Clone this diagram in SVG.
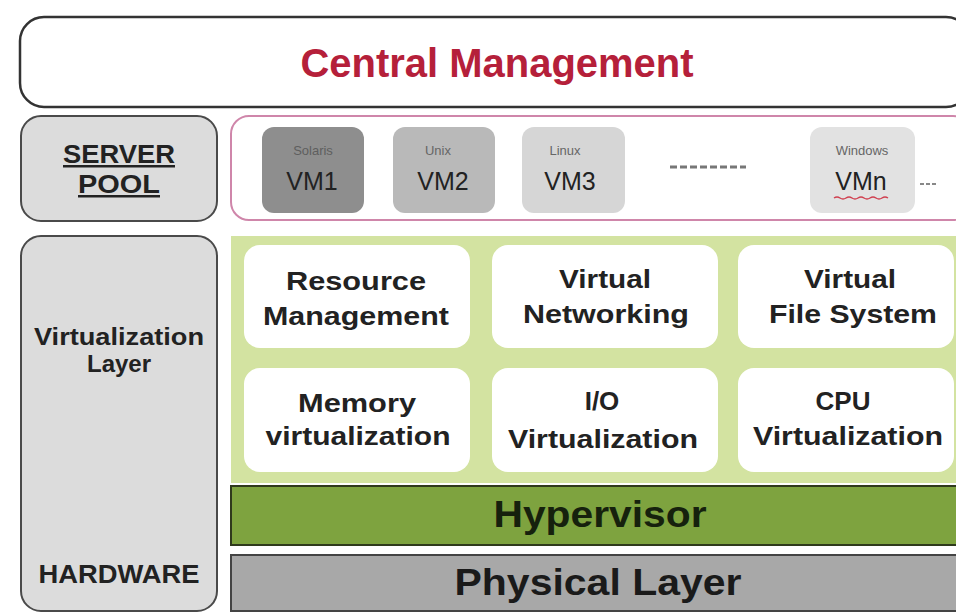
<svg xmlns="http://www.w3.org/2000/svg" width="956" height="613" viewBox="0 0 956 613">
<style>
.b{font-family:"Liberation Sans",Arial,sans-serif;font-weight:bold;text-anchor:middle;fill:#222}
.r{font-family:"Liberation Sans",Arial,sans-serif;text-anchor:middle}
.side{fill:#dcdcdc;stroke:#4a4a4a;stroke-width:2}
.cell{fill:#ffffff;stroke:none}
.os{font-size:13px;fill:#666}
.vm{font-size:25px;fill:#222}
</style>
<rect width="956" height="613" fill="#ffffff"/>
<g id="central">
<rect x="20" y="17" width="950" height="90" rx="24" fill="#ffffff" stroke="#333" stroke-width="2.5"/>
<text class="b" x="497" y="77" font-size="40" style="fill:#b5203a" textLength="393" lengthAdjust="spacingAndGlyphs">Central Management</text>
</g>
<g id="serverpool">
<rect class="side" x="21" y="116" width="196" height="105" rx="20"/>
<text class="b" x="119" y="163" font-size="25" text-decoration="underline" textLength="112" lengthAdjust="spacingAndGlyphs">SERVER</text>
<text class="b" x="119" y="193" font-size="25" text-decoration="underline" textLength="82" lengthAdjust="spacingAndGlyphs">POOL</text>
</g>
<g id="vmpool">
<rect x="231" y="116" width="740" height="104" rx="18" fill="#ffffff" stroke="#cf86aa" stroke-width="2"/>
</g>
<g id="vm1">
<rect x="262" y="127" width="102" height="86" rx="12" fill="#8e8e8e"/>
<text class="r os" x="313" y="155" style="fill:#5e5e5e">Solaris</text>
<text class="r vm" x="312" y="190">VM1</text>
</g>
<g id="vm2">
<rect x="393" y="127" width="102" height="86" rx="12" fill="#b9b9b9"/>
<text class="r os" x="438" y="155">Unix</text>
<text class="r vm" x="443" y="190">VM2</text>
</g>
<g id="vm3">
<rect x="522" y="127" width="103" height="86" rx="12" fill="#d6d6d6"/>
<text class="r os" x="565" y="155">Linux</text>
<text class="r vm" x="570" y="190">VM3</text>
</g>
<g id="dots">
<line x1="670" y1="167" x2="746" y2="167" stroke="#777" stroke-width="3" stroke-dasharray="7,3"/>
<line x1="920" y1="184" x2="937" y2="184" stroke="#888" stroke-width="2" stroke-dasharray="4,2"/>
</g>
<g id="vmn">
<rect x="810" y="127" width="105" height="86" rx="12" fill="#e2e2e2"/>
<text class="r os" x="862" y="155">Windows</text>
<text class="r vm" x="861" y="190">VMn</text>
<path d="M834 198 q3 -2 6 0 t6 0 t6 0 t6 0 t6 0 t6 0 t6 0 t6 0 t6 0" fill="none" stroke="#d04050" stroke-width="1.5"/>
</g>
<g id="virtlayer">
<rect class="side" x="21" y="236" width="196" height="375" rx="20"/>
<text class="b" x="119" y="345" font-size="24" textLength="170" lengthAdjust="spacingAndGlyphs">Virtualization</text>
<text class="b" x="119" y="372" font-size="24">Layer</text>
<text class="b" x="119" y="583" font-size="25" textLength="161" lengthAdjust="spacingAndGlyphs">HARDWARE</text>
</g>
<g id="greenarea">
<rect x="231" y="236" width="730" height="247" fill="#d3e3a1"/>
</g>
<g id="resource">
<rect class="cell" x="244" y="245" width="226" height="103" rx="16"/>
<text class="b" x="356" y="290" font-size="26" textLength="140" lengthAdjust="spacingAndGlyphs">Resource</text>
<text class="b" x="356" y="325" font-size="26" textLength="186" lengthAdjust="spacingAndGlyphs">Management</text>
</g>
<g id="vnet">
<rect class="cell" x="492" y="245" width="226" height="103" rx="16"/>
<text class="b" x="605" y="288" font-size="26" textLength="92" lengthAdjust="spacingAndGlyphs">Virtual</text>
<text class="b" x="606" y="323" font-size="26" textLength="166" lengthAdjust="spacingAndGlyphs">Networking</text>
</g>
<g id="vfs">
<rect class="cell" x="738" y="245" width="216" height="103" rx="16"/>
<text class="b" x="850" y="288" font-size="26" textLength="92" lengthAdjust="spacingAndGlyphs">Virtual</text>
<text class="b" x="853" y="323" font-size="26" textLength="168" lengthAdjust="spacingAndGlyphs">File System</text>
</g>
<g id="memory">
<rect class="cell" x="244" y="368" width="226" height="104" rx="16"/>
<text class="b" x="357" y="412" font-size="26" textLength="118" lengthAdjust="spacingAndGlyphs">Memory</text>
<text class="b" x="358" y="445" font-size="26" textLength="185" lengthAdjust="spacingAndGlyphs">virtualization</text>
</g>
<g id="io">
<rect class="cell" x="492" y="368" width="226" height="104" rx="16"/>
<text class="b" x="602" y="410" font-size="26">I/O</text>
<text class="b" x="603" y="448" font-size="26" textLength="190" lengthAdjust="spacingAndGlyphs">Virtualization</text>
</g>
<g id="cpu">
<rect class="cell" x="738" y="368" width="216" height="104" rx="16"/>
<text class="b" x="843" y="410" font-size="26">CPU</text>
<text class="b" x="848" y="445" font-size="26" textLength="190" lengthAdjust="spacingAndGlyphs">Virtualization</text>
</g>
<g id="hypervisor">
<rect x="231" y="486" width="735" height="59" fill="#7ea33f" stroke="#2f3a1c" stroke-width="2"/>
<text class="b" x="600" y="527" font-size="36" style="fill:#16210d" textLength="213" lengthAdjust="spacingAndGlyphs">Hypervisor</text>
</g>
<g id="physical">
<rect x="231" y="555" width="735" height="56" fill="#a8a8a8" stroke="#444" stroke-width="2"/>
<text class="b" x="598" y="595" font-size="36" style="fill:#1a1a1a" textLength="287" lengthAdjust="spacingAndGlyphs">Physical Layer</text>
</g>
<g id="connectors"></g>
</svg>
